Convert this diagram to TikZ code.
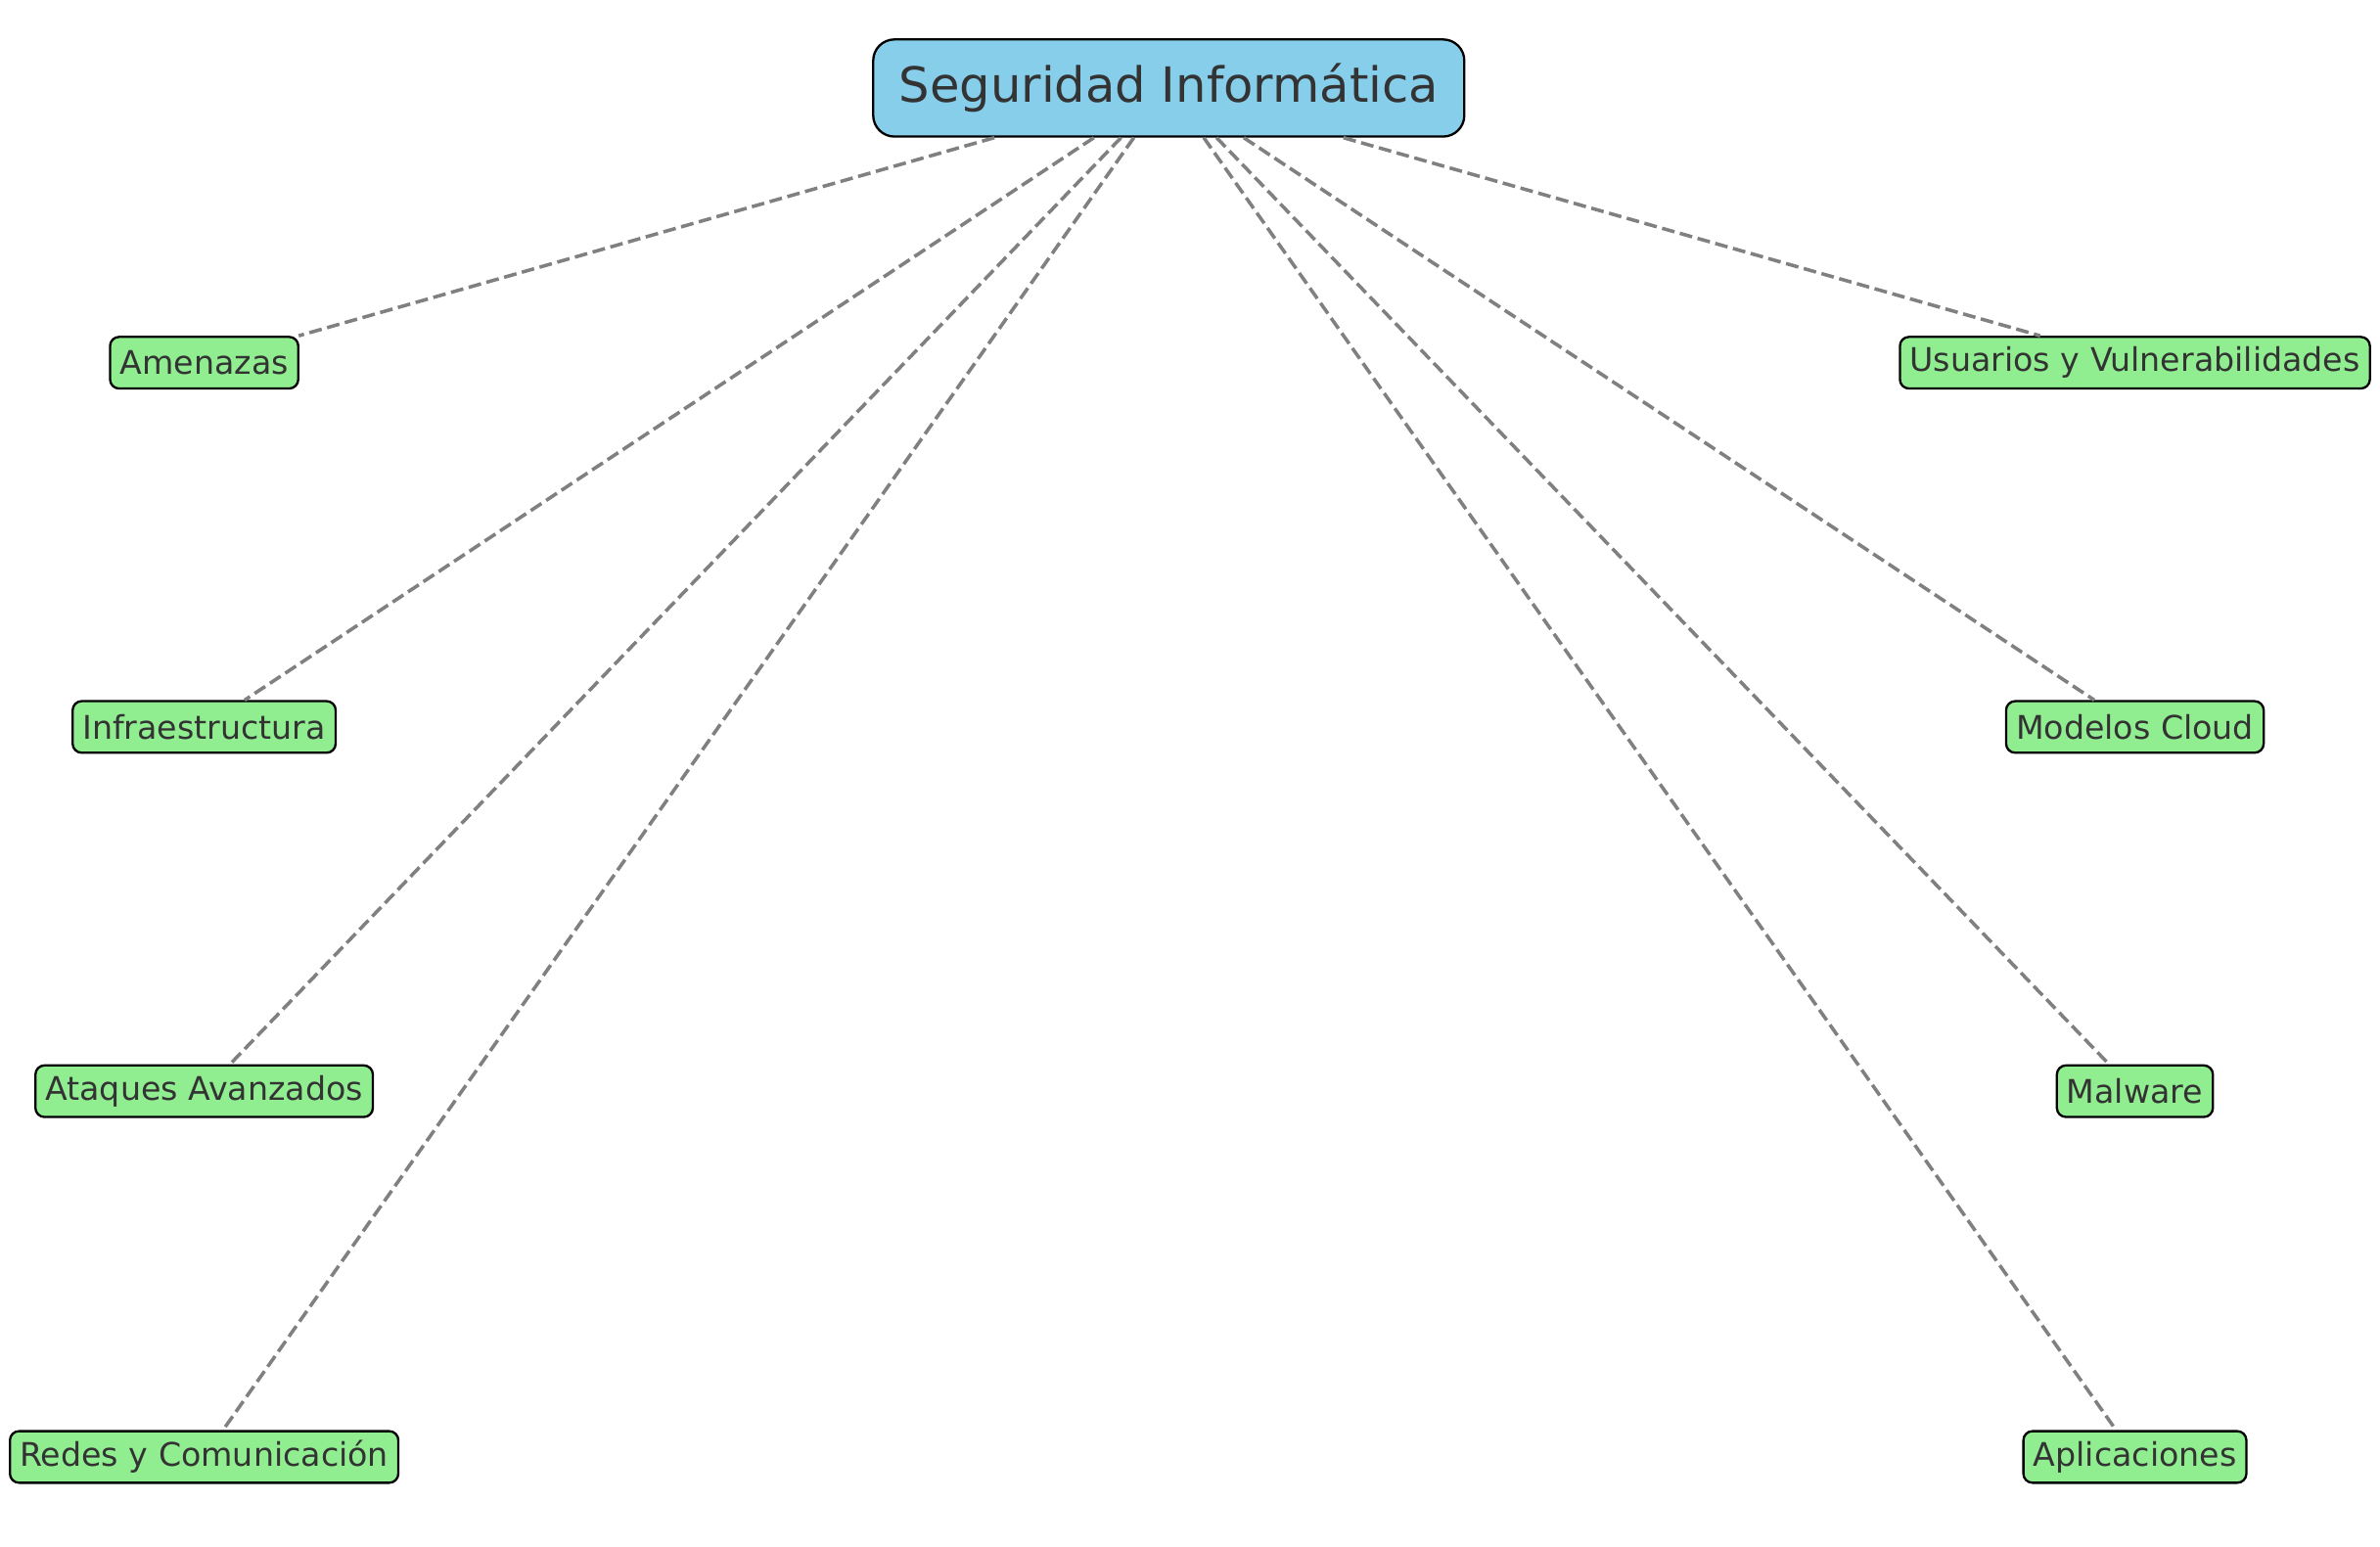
\documentclass[tikz,border=0pt]{standalone}
\usepackage{fontspec}
\setmainfont{DejaVu Sans}
\usepackage{tikz}
\definecolor{rootblue}{HTML}{87CEEB}
\definecolor{leafgreen}{HTML}{90EE90}
\definecolor{textgray}{HTML}{333333}

\begin{document}
\begin{tikzpicture}[
  root/.style={draw=black,line width=0.85pt,fill=rootblue,rounded corners=0.28cm,
    text=textgray,font=\fontsize{18.2}{21.8}\selectfont,inner xsep=0.34cm,inner ysep=0pt,
    minimum height=1.28cm},
  leaf/.style={draw=black,line width=0.85pt,fill=leafgreen,rounded corners=0.12cm,
    text=textgray,font=\fontsize{12.2}{14.6}\selectfont,inner xsep=0.13cm,inner ysep=0pt,
    minimum height=0.68cm},
  link/.style={draw=gray,line width=1.3pt,dash pattern=on 4.8pt off 2.1pt}]
\useasboundingbox (0,0) rectangle (31.36,20.38);

\node[root] (seg) at (15.40,19.22) {Seguridad Informática};

\node[leaf] (amen) at (2.69,15.60) {Amenazas};
\node[leaf] (infra) at (2.69,10.80) {Infraestructura};
\node[leaf] (atq) at (2.69,6.00) {Ataques Avanzados};
\node[leaf] (redes) at (2.69,1.18) {Redes y Comunicación};

\node[leaf] (usu) at (28.13,15.60) {Usuarios y Vulnerabilidades};
\node[leaf] (cloud) at (28.13,10.80) {Modelos Cloud};
\node[leaf] (mal) at (28.13,6.00) {Malware};
\node[leaf] (apl) at (28.13,1.18) {Aplicaciones};

\draw[link] (seg) -- (amen);
\draw[link] (seg) -- (infra);
\draw[link] (seg) -- (atq);
\draw[link] (seg) -- (redes);
\draw[link] (seg) -- (usu);
\draw[link] (seg) -- (cloud);
\draw[link] (seg) -- (mal);
\draw[link] (seg) -- (apl);
\end{tikzpicture}
\end{document}
